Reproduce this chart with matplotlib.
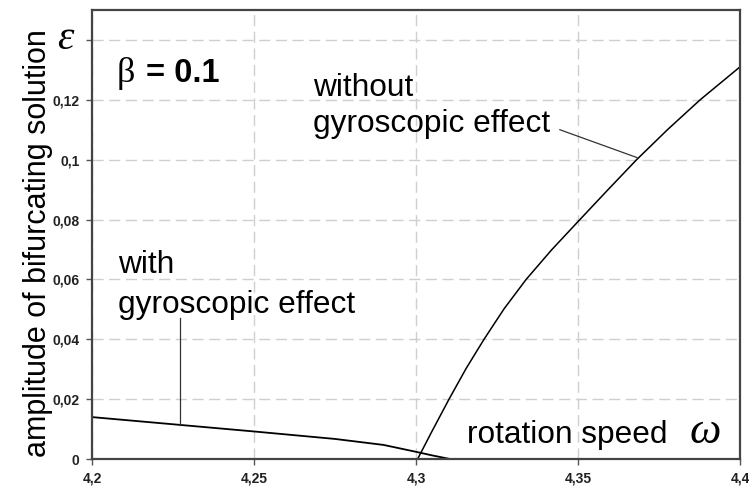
import matplotlib
matplotlib.use("Agg")
import matplotlib.pyplot as plt

# data
omega_with = [4.20, 4.225, 4.25, 4.275, 4.29, 4.30, 4.305, 4.3105]
eps_with = [0.0140, 0.0116, 0.0092, 0.0067, 0.0047, 0.0024, 0.0012, 0.0]

omega_without = [4.3005, 4.305, 4.3102, 4.3155, 4.321, 4.3272, 4.334, 4.3418,
                 4.3506, 4.3592, 4.3681, 4.3777, 4.3877, 4.40]
eps_without = [0.0, 0.0094, 0.0200, 0.0303, 0.0400, 0.0502, 0.0600, 0.0698,
               0.0800, 0.0899, 0.1000, 0.1101, 0.1200, 0.1310]

x_ticks = [4.2, 4.25, 4.3, 4.35, 4.4]
x_tick_labels = ["4,2", "4,25", "4,3", "4,35", "4,4"]
y_ticks = [0, 0.02, 0.04, 0.06, 0.08, 0.1, 0.12, 0.14]
y_tick_labels = ["0", "0,02", "0,04", "0,06", "0,08", "0,1", "0,12", ""]

plt.rcParams['font.family'] = ['Liberation Sans', 'DejaVu Sans']

fig = plt.figure(figsize=(7.49, 4.86), dpi=100)
ax = fig.add_axes([92/749, 1 - 459/486, (740 - 92)/749, (459 - 10)/486])

ax.plot(omega_with, eps_with, color='black', lw=1.3)
ax.plot(omega_without, eps_without, color='black', lw=1.1)

ax.set_xlim(4.2, 4.4)
ax.set_ylim(0, 0.15)
ax.set_xticks(x_ticks)
ax.set_xticklabels(x_tick_labels)
ax.set_yticks(y_ticks)
ax.set_yticklabels(y_tick_labels)
ax.tick_params(axis='both', direction='out', length=4, width=1, color='#555555',
               labelsize=10, pad=5)
for lab in ax.get_xticklabels() + ax.get_yticklabels():
    lab.set_fontweight('bold')
    lab.set_color('#222222')

ax.grid(True, color='#cfcfcf', linestyle=(0, (8, 4)), lw=1.0)
ax.set_axisbelow(True)
for s in ax.spines.values():
    s.set_color('#444444')
    s.set_linewidth(1.6)

# axis label
fig.text(38/749, 1 - 243/486, "amplitude of bifurcating solution", rotation=90,
         ha='center', va='center', fontsize=22)
fig.text(65/749, 1 - 39/486, "ε", family=['Liberation Serif', 'DejaVu Serif'],
         style='italic', fontsize=30, ha='center', va='center')

# beta label
ax.text(4.2075, 0.1261, "β", family=['Liberation Serif', 'DejaVu Serif'],
        fontsize=26, ha='left', va='baseline')
ax.text(4.2168, 0.1261, "= 0.1", fontsize=23.5, fontweight='bold', ha='left', va='baseline')

# annotations
ax.text(4.2080, 0.0622, "with", fontsize=22.8, ha='left', va='baseline')
ax.text(4.2080, 0.0488, "gyroscopic effect", fontsize=22.8, ha='left', va='baseline')
ax.plot([4.2272, 4.2272], [0.047, 0.0114], color='#333333', lw=0.9)

ax.text(4.2682, 0.1214, "without", fontsize=22.8, ha='left', va='baseline')
ax.text(4.2682, 0.1094, "gyroscopic effect", fontsize=22.8, ha='left', va='baseline')
ax.plot([4.3444, 4.3682], [0.110, 0.1007], color='#333333', lw=0.9)

ax.text(4.3157, 0.0054, "rotation speed", fontsize=22.8, ha='left', va='baseline')
ax.text(4.3845, 0.0054, "ω", family=['Liberation Serif', 'DejaVu Serif'],
        style='italic', fontsize=32, ha='left', va='baseline')

fig.savefig("out.png", dpi=100)
